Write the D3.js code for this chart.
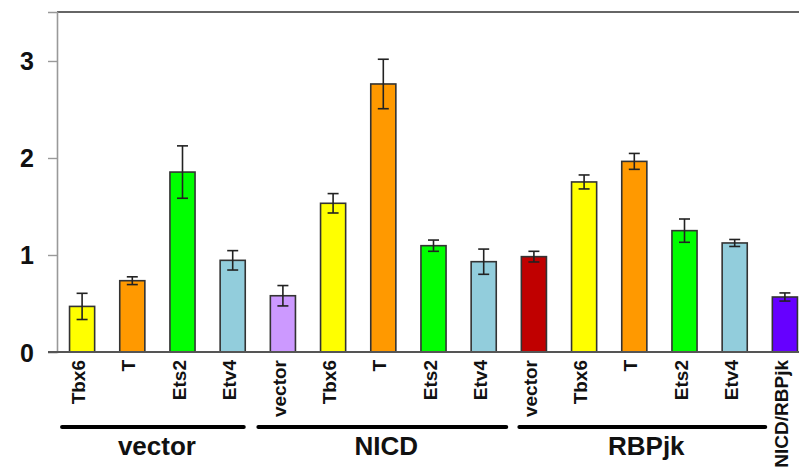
<!DOCTYPE html>
<html><head><meta charset="utf-8">
<script src="https://cdn.jsdelivr.net/npm/d3@7"></script>
<style>body{margin:0;background:#fff}svg{display:block}text{font-family:"Liberation Sans",Arial,sans-serif;font-weight:bold}</style>
</head><body>
<svg id="c" width="799" height="471"></svg>
<script>
const labels = ["Tbx6","T","Ets2","Etv4","vector","Tbx6","T","Ets2","Etv4","vector","Tbx6","T","Ets2","Etv4","NICD/RBPjk"];
const values = [0.47,0.735,1.855,0.945,0.58,1.533,2.763,1.096,0.931,0.983,1.753,1.965,1.251,1.124,0.567];
const errors = [0.135,0.04,0.27,0.1,0.105,0.1,0.255,0.058,0.13,0.055,0.072,0.082,0.12,0.036,0.042];
const groupNames = ["vector","NICD","RBPjk"];
const groupFrom = [0,4,9];
const groupTo = [3,8,13];
const yTicks = [0,1,2,3];
const barColors = ["#ffff00","#ff9900","#00ff00","#92cddc","#cc99ff","#ffff00","#ff9900","#00ff00","#92cddc","#c00000","#ffff00","#ff9900","#00ff00","#92cddc","#6600ff"];
const groupLinePadL = [7.5,12,2];
const groupLinePadR = [-1.5,10,18];

const svg = d3.select("#c");
const ids = labels.map((d,i)=>i);
const x = d3.scaleBand().domain(ids).range([57,810]).paddingInner(0.5).paddingOuter(0.25);
const y = d3.scaleLinear().domain([0,3.505]).range([352,12]);

// top border
svg.append("line").attr("x1",57).attr("x2",799).attr("y1",y(3.505)).attr("y2",y(3.505))
  .attr("stroke","#666").attr("stroke-width",1.8);

// y axis
const ya = svg.append("g").attr("transform","translate(57,0)")
  .call(d3.axisLeft(y).tickValues(yTicks).tickSize(9).tickPadding(14).tickFormat(d3.format("d")));
ya.select(".domain").attr("stroke","#999").attr("stroke-width",1.6);
ya.selectAll(".tick line").attr("stroke","#999").attr("stroke-width",1.4);
ya.selectAll(".tick text").attr("font-size",25).attr("fill","#111")
  .attr("font-family","'Liberation Sans',Arial,sans-serif").attr("font-weight","bold").attr("dy","0.36em");

// bars
svg.append("g").selectAll("rect").data(values).join("rect")
  .attr("x",(d,i)=>x(i)).attr("width",x.bandwidth())
  .attr("y",d=>y(d)).attr("height",d=>y(0)-y(d))
  .attr("fill",(d,i)=>barColors[i]).attr("stroke","#333").attr("stroke-width",1.6);

// error bars
const eb = svg.append("g").attr("stroke","#222").attr("stroke-width",1.6);
values.forEach((v,i)=>{
  const cx = x(i)+x.bandwidth()/2;
  eb.append("line").attr("x1",cx).attr("x2",cx).attr("y1",y(v+errors[i])).attr("y2",y(v-errors[i]));
  eb.append("line").attr("x1",cx-5.5).attr("x2",cx+5.5).attr("y1",y(v+errors[i])).attr("y2",y(v+errors[i]));
  eb.append("line").attr("x1",cx-5.5).attr("x2",cx+5.5).attr("y1",y(v-errors[i])).attr("y2",y(v-errors[i]));
});

// x baseline
svg.append("line").attr("x1",48).attr("x2",799).attr("y1",y(0)).attr("y2",y(0))
  .attr("stroke","#555").attr("stroke-width",1.8);

// x labels
svg.append("g").selectAll("text").data(labels).join("text")
  .attr("transform",(d,i)=>`translate(${x(i)+x.bandwidth()/2+3},360) rotate(-90)`)
  .attr("text-anchor","end").attr("font-size",19).attr("fill","#111").text(d=>d);

// group lines & labels
const gg = svg.append("g");
groupNames.forEach((name,k)=>{
  const x1 = x(groupFrom[k])-groupLinePadL[k], x2 = x(groupTo[k])+x.bandwidth()+groupLinePadR[k];
  gg.append("line").attr("x1",x1).attr("x2",x2).attr("y1",427).attr("y2",427)
    .attr("stroke","#000").attr("stroke-width",4).attr("stroke-linecap","round");
  gg.append("text").attr("x",(x1+x2)/2+4).attr("y",455).attr("text-anchor","middle")
    .attr("font-size",26).attr("fill","#111").text(name);
});
</script>
</body></html>
